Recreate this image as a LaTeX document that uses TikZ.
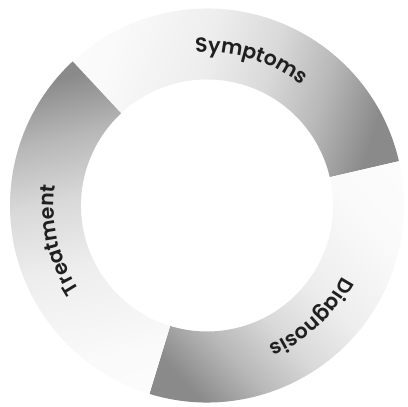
\documentclass[tikz,border=0pt]{standalone}
\usepackage{fontspec}
\newfontfamily\ringfont{Poppins}[UprightFont={* SemiBold}]
\usetikzlibrary{calc, decorations.text}
\newcommand{\rout}{197}
\newcommand{\rin}{126}
\newcommand{\rtxt}{153}
% white to grey, dark at the right
\pgfdeclarehorizontalshading{ringfade}{100bp}{color(0bp)=(white); color(28bp)=(black!2);
    color(44bp)=(black!7); color(55bp)=(black!15); color(65bp)=(black!28);
    color(75bp)=(black!46); color(100bp)=(black!46)}

\begin{document}
\begin{tikzpicture}[x=1pt, y=1pt,
    seg/.style={shading=ringfade},
    lbl/.style={decorate, decoration={text along path, text align=center,
        text color=black!88, text={|\ringfont\fontsize{20.5}{20.5}\selectfont|#1}}}]
    \useasboundingbox (0,0) rectangle (408,407);
    \coordinate (c) at (207,201.5);

    % Symptoms
    \shade[seg, shading angle=-17] ([shift={(13:\rout)}]c) arc[start angle=13, end angle=133, radius=\rout]
        -- ([shift={(133:\rin)}]c) arc[start angle=133, end angle=13, radius=\rin] -- cycle;
    \path[lbl=Symptoms] ([shift={(123:\rtxt)}]c) arc[start angle=123, end angle=23, radius=\rtxt];

    % Diagnosis
    \shade[seg, shading angle=-137] ([shift={(-107:\rout)}]c) arc[start angle=-107, end angle=13, radius=\rout]
        -- ([shift={(13:\rin)}]c) arc[start angle=13, end angle=-107, radius=\rin] -- cycle;
    \path[lbl=Diagnosis] ([shift={(3:\rtxt)}]c) arc[start angle=3, end angle=-97, radius=\rtxt];

    % Treatment
    \shade[seg, shading angle=103] ([shift={(133:\rout)}]c) arc[start angle=133, end angle=253, radius=\rout]
        -- ([shift={(253:\rin)}]c) arc[start angle=253, end angle=133, radius=\rin] -- cycle;
    \path[lbl=Treatment] ([shift={(243:\rtxt)}]c) arc[start angle=243, end angle=143, radius=\rtxt];
\end{tikzpicture}
\end{document}
